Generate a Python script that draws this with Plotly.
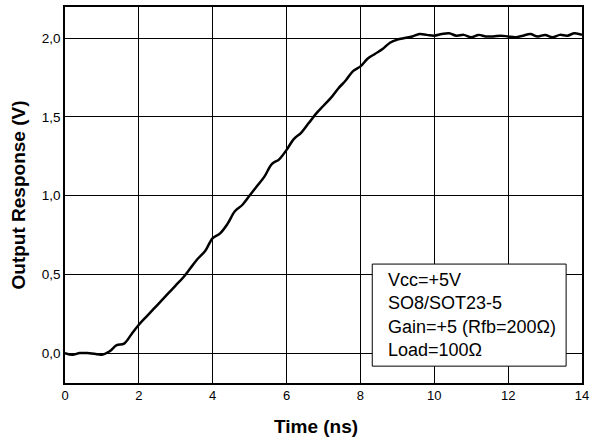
import plotly.graph_objects as go

time_ns = [0.0, 0.2, 0.4, 0.6, 0.8, 1.0, 1.2, 1.4, 1.6, 1.8, 2.0, 2.2, 2.4, 2.6, 2.8, 3.0,
           3.2, 3.4, 3.6, 3.8, 4.0, 4.2, 4.4, 4.6, 4.8, 5.0, 5.2, 5.4, 5.6, 5.8, 6.0,
           6.2, 6.4, 6.6, 6.8, 7.0, 7.2, 7.4, 7.6, 7.8, 8.0, 8.2, 8.4, 8.6, 8.8, 9.0,
           9.2, 9.4, 9.6, 9.8, 10.0, 10.2, 10.4, 10.6, 10.8, 11.0, 11.2, 11.4, 11.6,
           11.8, 12.0, 12.2, 12.4, 12.6, 12.8, 13.0, 13.2, 13.4, 13.6, 13.8, 14.0]
output_v = [0.00, -0.01, 0.00, 0.00, -0.005, -0.01, 0.01, 0.05, 0.06, 0.12, 0.18, 0.23,
            0.28, 0.33, 0.38, 0.43, 0.48, 0.54, 0.60, 0.65, 0.73, 0.76, 0.82, 0.90, 0.94,
            1.00, 1.06, 1.12, 1.20, 1.23, 1.29, 1.36, 1.40, 1.46, 1.52, 1.57, 1.62, 1.68,
            1.73, 1.79, 1.82, 1.87, 1.90, 1.93, 1.97, 1.99, 2.00, 2.01, 2.025, 2.02,
            2.015, 2.025, 2.03, 2.015, 2.02, 2.005, 2.02, 2.01, 2.01, 2.015, 2.01, 2.005,
            2.015, 2.025, 2.01, 2.02, 2.005, 2.02, 2.015, 2.03, 2.02]

x_ticks = [0, 2, 4, 6, 8, 10, 12, 14]
y_ticks = [0.0, 0.5, 1.0, 1.5, 2.0]
info_lines = ["Vcc=+5V", "SO8/SOT23-5", "Gain=+5 (Rfb=200Ω)", "Load=100Ω"]

FONT = "Liberation Sans, Arial, sans-serif"

fig = go.Figure()
fig.add_trace(go.Scatter(x=time_ns, y=output_v, mode="lines",
                         line=dict(color="black", width=2.5), line_shape="spline",
                         showlegend=False))

fig.add_shape(type="rect", x0=8.32, x1=13.57, y0=-0.083, y1=0.565,
              xref="x", yref="y", fillcolor="white",
              line=dict(color="black", width=1), layer="above")
fig.add_annotation(x=8.68, y=0.24, xref="x", yref="y", xanchor="left", yanchor="middle",
                   text="<br>".join(info_lines), showarrow=False, align="left",
                   font=dict(family=FONT, size=18, color="black"))
fig.add_annotation(x=0.4855, y=-0.1144, xref="paper", yref="paper",
                   xanchor="center", yanchor="middle", showarrow=False,
                   text="<b>Time (ns)</b>", font=dict(family=FONT, size=19, color="black"))

fig.update_layout(
    width=590, height=439,
    margin=dict(l=65, r=8, t=7, b=56, autoexpand=False),
    plot_bgcolor="white", paper_bgcolor="white",
    separators=",.",
    font=dict(family=FONT, size=13, color="black"),
)
fig.update_xaxes(range=[0, 14], tickvals=x_ticks, showgrid=True, gridcolor="black",
                 gridwidth=1, showline=True, linecolor="black", linewidth=1.5, mirror=True,
                 zeroline=False, ticks="", ticklen=0, automargin=False)
fig.update_yaxes(range=[-0.19, 2.197], tickvals=y_ticks, tickformat=".1f", showgrid=True,
                 gridcolor="black", gridwidth=1, showline=True, linecolor="black",
                 linewidth=1.5, mirror=True, zeroline=False, ticks="", ticklen=0,
                 automargin=False, tickfont=dict(size=13.5),
                 title=dict(text="<b>Output Response (V)</b>", font=dict(size=19), standoff=11))

fig.write_html("out.html")
